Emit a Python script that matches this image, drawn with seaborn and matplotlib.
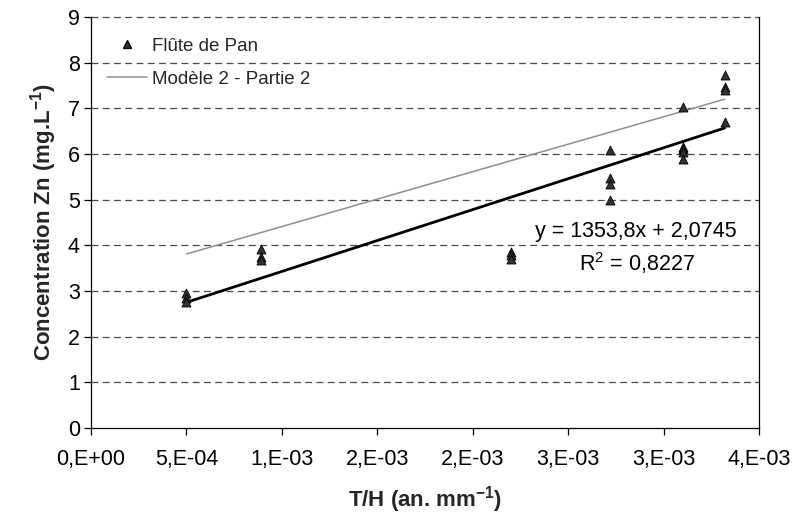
import numpy as np
import pandas as pd
import matplotlib
matplotlib.use("Agg")
import matplotlib.pyplot as plt
from matplotlib.lines import Line2D
import seaborn as sns

# ---- data ----
th_values = [0.0005, 0.0005, 0.0005,
             0.00089, 0.00089, 0.00089,
             0.0022, 0.0022, 0.0022,
             0.00272, 0.00272, 0.00272, 0.00272,
             0.00310, 0.00310, 0.00310, 0.00310, 0.00310,
             0.00332, 0.00332, 0.00332, 0.00332]
zn_values = [2.95, 2.85, 2.75,
             3.93, 3.75, 3.68,
             3.85, 3.78, 3.70,
             6.09, 5.48, 5.35, 4.99,
             7.03, 6.16, 6.10, 6.05, 5.90,
             7.72, 7.47, 7.40, 6.70]
model_x = [0.0005, 0.00332]
model_y = [3.81, 7.20]
fit_slope = 1353.8
fit_intercept = 2.0745
x_tick_values = [0, 0.0005, 0.001, 0.0015, 0.002, 0.0025, 0.003, 0.0035]
x_tick_labels = ['0,E+00', '5,E-04', '1,E-03', '2,E-03', '2,E-03', '3,E-03', '3,E-03', '4,E-03']
y_ticks = [0, 1, 2, 3, 4, 5, 6, 7, 8, 9]
eq_text = "y = 1353,8x + 2,0745"
r2_text = "R$^{2}$ = 0,8227"
legend_labels = ["Flûte de Pan", "Modèle 2 - Partie 2"]

sns.set_theme(style="white")
plt.rcParams['font.family'] = ['Liberation Sans', 'DejaVu Sans']
plt.rcParams['mathtext.fontset'] = 'custom'
plt.rcParams['mathtext.rm'] = 'Liberation Sans'
plt.rcParams['mathtext.it'] = 'Liberation Sans:italic'
plt.rcParams['mathtext.bf'] = 'Liberation Sans:bold'

fig = plt.figure(figsize=(7.97, 5.18), dpi=100)
ax = fig.add_axes([91/797, 1-428/518, (759-91)/797, (428-17)/518])

df = pd.DataFrame({"th": th_values, "zn": zn_values})
fit_x = [min(th_values), max(th_values)]
fit_df = pd.DataFrame({"x": fit_x, "y": [fit_slope * v + fit_intercept for v in fit_x]})
model_df = pd.DataFrame({"x": model_x, "y": model_y})

# gridlines
for yv in y_ticks[1:]:
    ax.axhline(yv, color='#4a4a4a', lw=0.9, ls=(0, (5.5, 3.5)), zorder=0, clip_on=False)

sns.lineplot(data=model_df, x="x", y="y", ax=ax, color='#8f8f8f', lw=1.1, zorder=2)
sns.lineplot(data=fit_df, x="x", y="y", ax=ax, color='black', lw=2.0, zorder=3)
sns.scatterplot(data=df, x="th", y="zn", ax=ax, marker='^', s=42,
                color='#333333', edgecolor='black', linewidth=0.6, zorder=4)

ax.set_xlim(0, 0.0035)
ax.set_ylim(0, 9)
ax.set_xticks(x_tick_values)
ax.set_xticklabels(x_tick_labels)
ax.set_yticks(y_ticks)
ax.tick_params(axis='x', direction='out', length=5, width=0.9, color='black',
               labelsize=15.5, labelcolor='black', bottom=True, pad=10)
ax.tick_params(axis='y', direction='out', length=5, width=0.9, color='black',
               labelsize=15.5, labelcolor='black', left=True, pad=3)
for s in ['left', 'bottom', 'right']:
    ax.spines[s].set_visible(True)
    ax.spines[s].set_color('black')
    ax.spines[s].set_linewidth(0.9)
ax.spines['top'].set_visible(False)

ax.set_xlabel(r"T/H (an. mm$\mathbf{^{-1}}$)", fontsize=16, fontweight='bold', labelpad=10)
ax.set_ylabel(r"Concentration Zn (mg.L$\mathbf{^{-1}}$)", fontsize=16, fontweight='bold', labelpad=6)

ax.text(0.002855, 4.31, eq_text, ha='center', va='center', fontsize=15.5, color='black')
ax.text(0.00286, 3.61, r2_text, ha='center', va='center', fontsize=15.5, color='black')

handles = [Line2D([], [], marker='^', color='#333333', markeredgecolor='black', ls='none', markersize=6),
           Line2D([], [], color='#8f8f8f', lw=1.1)]
leg = ax.legend(handles, legend_labels, loc='upper left',
                bbox_to_anchor=(0.005, 0.982), frameon=False, fontsize=13.5,
                handlelength=2.1, handletextpad=0.3, borderaxespad=0.3, labelspacing=0.85)

fig.savefig("out.png", dpi=100, facecolor='white')
